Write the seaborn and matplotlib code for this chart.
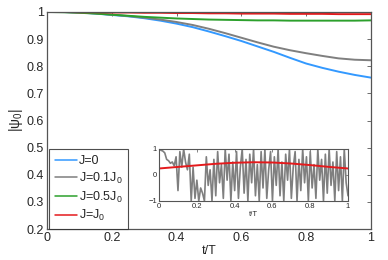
import numpy as np
import pandas as pd
import seaborn as sns
import matplotlib
matplotlib.use("Agg")
import matplotlib.pyplot as plt
from matplotlib.ticker import FormatStrFormatter

# main panel: |psi_0| vs t/T
t_main = [0.0, 0.05, 0.1, 0.15, 0.2, 0.25, 0.3, 0.35, 0.4, 0.45, 0.5,
          0.55, 0.6, 0.65, 0.7, 0.75, 0.8, 0.85, 0.9, 0.95, 1.0]
psi_j0 = [1.0, 1.0, 0.998, 0.994, 0.989, 0.984, 0.977, 0.968, 0.957, 0.944, 0.928,
          0.911, 0.893, 0.873, 0.853, 0.831, 0.81, 0.794, 0.78, 0.768, 0.758]
psi_j01 = [1.0, 1.0, 0.998, 0.995, 0.99, 0.985, 0.979, 0.972, 0.963, 0.952, 0.938,
           0.922, 0.905, 0.888, 0.872, 0.859, 0.848, 0.838, 0.829, 0.824, 0.822]
psi_j05 = [1.0, 0.999, 0.997, 0.994, 0.99, 0.986, 0.982, 0.979, 0.976, 0.974, 0.972,
           0.971, 0.97, 0.969, 0.969, 0.968, 0.968, 0.968, 0.968, 0.968, 0.969]
psi_j1 = [1.0, 1.0, 0.999, 0.999, 0.998, 0.998, 0.997, 0.997, 0.996, 0.996, 0.995,
          0.995, 0.994, 0.994, 0.994, 0.993, 0.993, 0.993, 0.992, 0.992, 0.992]
labels = ["J=0", "J=0.1J$_0$", "J=0.5J$_0$", "J=J$_0$"]
colors = ["#3399ff", "#7f7f7f", "#2ca02c", "#e41a1c"]

# inset: noisy signal and smooth drive
t_inset = [i / 100 for i in range(101)]
noisy = [1.0, 0.95, 0.92, 0.85, 0.6, 0.55, 0.45, 0.5, 0.35, 0.7,
         -0.6, 0.9, 0.3, 1.0, 0.5, 0.2, 0.8, -1.0, 0.3, -0.9,
         -0.2, -1.0, -0.5, -0.7, -1.0, 0.7, -0.4, 0.2, -1.0, 0.6,
         -0.8, 0.9, -0.3, 0.4, -0.9, 1.0, -0.2, 0.8, -1.0, 0.5,
         -0.6, 0.9, -0.9, 0.3, 1.0, -0.7, 0.6, -1.0, 0.8, -0.3,
         1.0, -0.8, 0.4, -1.0, 0.9, -0.5, 1.0, -0.9, 0.2, 0.9,
         -1.0, 0.7, -0.4, 1.0, -0.8, 0.5, -1.0, 0.8, -0.2, 1.0,
         -0.9, 0.3, 0.9, -1.0, 0.6, -0.6, 1.0, -0.3, 0.7, -1.0,
         0.9, -0.5, 0.4, -0.9, 1.0, -0.2, 0.6, -1.0, 0.8, -0.7,
         1.0, -0.4, 0.5, -1.0, 0.9, -0.6, 0.7, -1.0, 1.0, -0.3, -0.8]
t_drive = [0.0, 0.1, 0.2, 0.3, 0.4, 0.5, 0.6, 0.7, 0.8, 0.9, 1.0]
drive = [0.25, 0.31, 0.37, 0.43, 0.47, 0.49, 0.48, 0.44, 0.38, 0.31, 0.25]

sns.set_style("white")
plt.rcParams["font.family"] = ["Liberation Sans", "DejaVu Sans"]
plt.rcParams["mathtext.default"] = "regular"
plt.rcParams["xtick.direction"] = "in"
plt.rcParams["ytick.direction"] = "in"

frame = "#555555"

df = pd.DataFrame({
    "t": t_main * 4,
    "psi": psi_j0 + psi_j01 + psi_j05 + psi_j1,
    "J": sum([[lab] * len(t_main) for lab in labels], []),
})

fig = plt.figure(figsize=(3.88, 2.6), dpi=100)
ax = fig.add_axes([0.121, 0.119, 0.835, 0.835])
sns.lineplot(data=df, x="t", y="psi", hue="J", palette=colors, hue_order=labels,
             linewidth=1.4, ax=ax)
ax.set_xlim(0, 1)
ax.set_ylim(0.2, 1)
ax.set_xticks([0, 0.2, 0.4, 0.6, 0.8, 1])
ax.set_yticks([0.2, 0.3, 0.4, 0.5, 0.6, 0.7, 0.8, 0.9, 1])
ax.xaxis.set_major_formatter(FormatStrFormatter("%g"))
ax.yaxis.set_major_formatter(FormatStrFormatter("%g"))
ax.tick_params(labelsize=9, length=3, width=0.6, color=frame,
               top=True, right=True, pad=2)
ax.set_xlabel("t/T", fontsize=9, labelpad=1)
ax.set_ylabel(r"$|\psi_0|$", fontsize=10, labelpad=1)
for s in ax.spines.values():
    s.set_color(frame)
    s.set_linewidth(0.9)

leg = ax.legend(loc="lower left", bbox_to_anchor=(0.006, 0.0), borderaxespad=0,
                fontsize=9, frameon=True, fancybox=False, edgecolor="#222222",
                handlelength=1.8, handletextpad=0.15, labelspacing=0.3,
                borderpad=0.45)
leg.get_frame().set_linewidth(0.8)
for line in leg.get_lines():
    line.set_linewidth(1.1)

ins = fig.add_axes([0.41, 0.227, 0.487, 0.2])
sns.lineplot(x=t_inset, y=noisy, color="#7f7f7f", linewidth=1.2, ax=ins)
sns.lineplot(x=t_drive, y=drive, color="#e41a1c", linewidth=1.4, ax=ins)
ins.set_xlim(0, 1)
ins.set_ylim(-1, 1)
ins.set_xticks([0, 0.2, 0.4, 0.6, 0.8, 1])
ins.set_yticks([-1, 0, 1])
ins.xaxis.set_major_formatter(FormatStrFormatter("%g"))
ins.tick_params(labelsize=5.5, length=2, width=0.5, color=frame,
                top=True, right=True, pad=1.5)
ins.set_xlabel("t/T", fontsize=5.5, labelpad=0.5)
for s in ins.spines.values():
    s.set_color(frame)
    s.set_linewidth(0.8)

fig.savefig("out.png", dpi=100)
